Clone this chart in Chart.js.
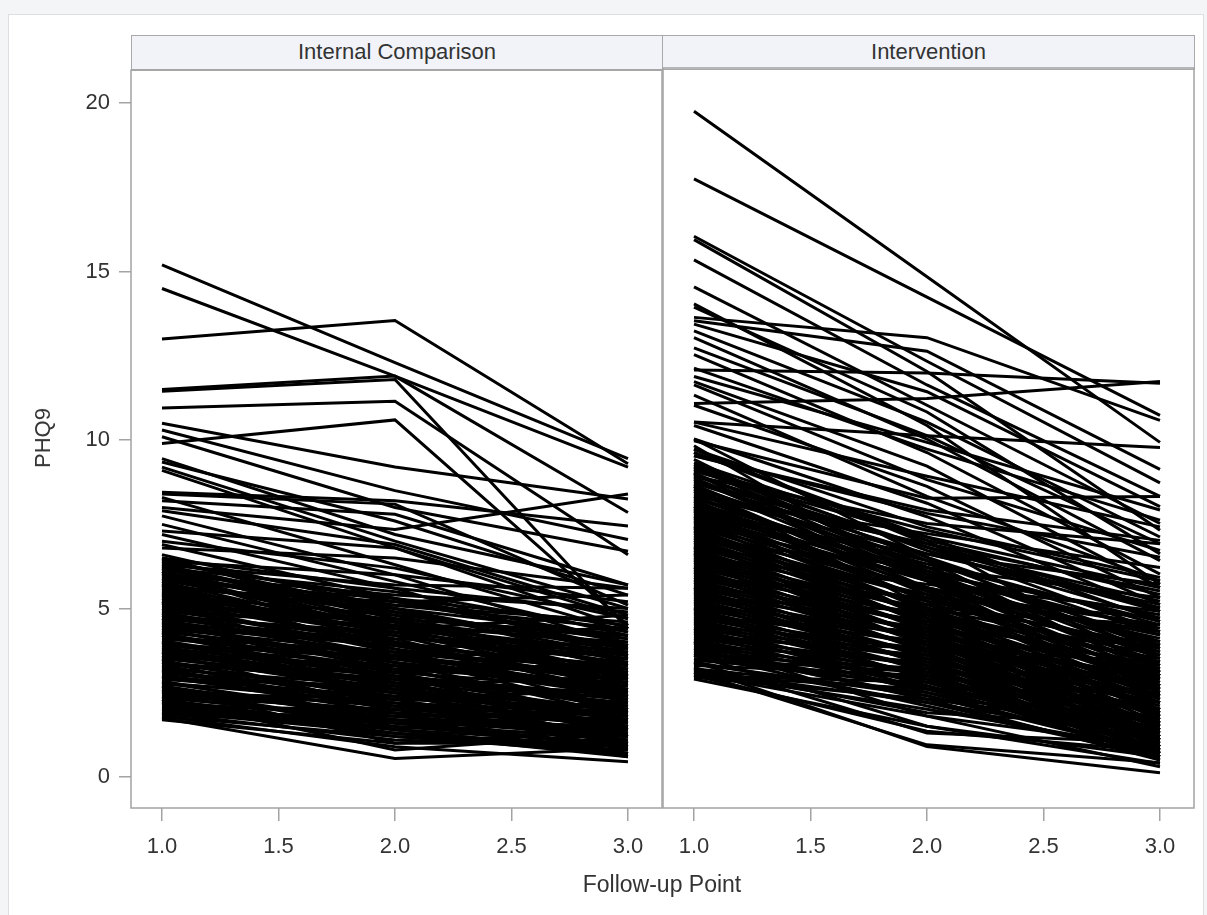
<!DOCTYPE html>
<html>
<head>
<meta charset="utf-8">
<script src="https://cdn.jsdelivr.net/npm/chart.js@4.4.1/dist/chart.umd.min.js"></script>
<style>
  html, body { margin:0; padding:0; width:1207px; height:915px; overflow:hidden; background:#f4f5f7; font-family:"Liberation Sans", Arial, sans-serif; }
  #sheet { position:absolute; left:8px; top:14px; width:1196px; height:905px; background:#fff; border:1px solid #dcdee2; box-sizing:border-box; }
  .hdr { position:absolute; top:35px; height:35px; background:#f1f3f8; border:1px solid #a9a9a9; box-sizing:border-box; color:#333; font-size:22px; line-height:32px; text-align:center; }
  canvas { position:absolute; }
  #ytitle { position:absolute; left:43px; top:438px; transform:translate(-50%,-50%) rotate(-90deg); font-size:22px; color:#333; white-space:nowrap; }
  #xtitle { position:absolute; left:662px; top:884px; transform:translate(-50%,-50%); font-size:23px; color:#333; white-space:nowrap; }
</style>
</head>
<body>
<div id="sheet"></div>
<div class="hdr" style="left:131px;width:532px;">Internal Comparison</div>
<div class="hdr" style="left:662px;width:533px;">Intervention</div>
<canvas id="c1" width="682" height="867" style="left:0px;top:48px;width:682px;height:867px;"></canvas>
<canvas id="c2" width="571" height="867" style="left:643px;top:48px;width:571px;height:867px;"></canvas>
<div id="ytitle">PHQ9</div>
<div id="xtitle">Follow-up Point</div>
<script>
// Follow-up points
const followUp = [1, 2, 3];
const xTickValues = [1.0, 1.5, 2.0, 2.5, 3.0];
const yTickValues = [0, 5, 10, 15, 20];
const panelTitles = ["Internal Comparison", "Intervention"];

// PHQ9 per subject at follow-up 1, 2, 3 — Internal Comparison
const comparisonUpper = [
  [15.2,12.3,9.45],[14.5,11.9,9.2],[13.0,13.55,9.3],[11.5,11.9,7.85],[11.45,11.8,4.4],
  [10.95,11.15,6.6],[9.9,10.6,4.5],[10.5,9.2,8.25],[10.3,8.5,7.05],[10.1,8.0,6.7],
  [9.45,7.2,5.7],[9.35,7.6,5.4],[9.2,7.0,5.0],[9.1,6.8,4.7],[8.45,8.2,7.45],
  [8.4,8.1,5.1],[8.3,6.3,4.3],[8.2,7.8,5.7],[8.0,7.35,8.4],[7.9,6.9,4.8],
  [7.75,6.0,3.9],[7.5,5.8,4.2],[7.3,6.8,4.4],[7.2,5.6,3.6],[7.0,6.2,4.7],
  [6.9,5.3,3.8],[6.8,6.5,5.6],[6.6,5.0,3.4]
];
const comparisonLower = [
  [6.4,5.2,4.0],[6.3,4.8,3.2],[6.2,5.5,4.3],[6.1,4.6,2.9],[6.0,5.0,3.7],[5.9,4.4,3.1],[5.8,5.3,4.5],[5.8,4.2,2.6],[5.7,4.9,3.9],[5.6,4.5,3.3],
  [5.5,4.1,2.4],[5.4,4.8,4.1],[5.4,3.9,2.8],[5.3,4.6,3.5],[5.2,4.0,2.2],[5.1,4.7,4.2],[5.0,3.8,2.9],[5.0,4.4,3.6],[4.9,3.6,1.9],[4.8,4.2,3.4],
  [4.8,3.5,2.5],[4.7,4.0,3.0],[4.6,3.3,1.6],[4.6,3.9,3.8],[4.5,3.4,2.7],[4.4,3.7,3.2],[4.4,3.0,1.4],[4.3,3.6,2.9],[4.2,3.2,2.1],[4.2,2.9,1.2],
  [4.1,3.5,3.1],[4.0,3.0,2.3],[4.0,2.7,1.0],[3.9,3.3,2.6],[3.8,2.8,1.8],[3.8,3.2,2.8],[3.7,2.6,1.3],[3.6,3.0,2.4],[3.6,2.5,0.9],[3.5,2.9,2.2],
  [3.4,2.4,1.5],[3.4,2.8,2.5],[3.3,2.2,0.8],[3.2,2.7,2.0],[3.2,2.1,1.1],[3.1,2.5,1.7],[3.0,2.3,2.1],[3.0,1.9,0.7],[2.9,2.4,1.9],[2.8,1.8,1.2],
  [2.8,2.2,1.6],[2.7,1.7,0.6],[2.6,2.1,1.8],[2.6,1.5,1.0],[2.5,1.9,1.4],[2.4,1.6,0.9],[2.4,2.0,1.7],[2.3,1.4,0.7],[2.2,1.8,1.3],[2.2,1.2,0.8],
  [2.1,1.6,1.1],[2.0,1.3,0.6],[2.0,1.7,1.5],[1.9,1.1,0.9],[1.9,1.5,1.2],[1.8,0.9,0.45],[1.8,1.2,0.7],[1.75,0.55,0.85],[1.7,1.0,1.0],
  [6.4,6.0,5.2],[6.3,5.7,5.6],[6.2,4.4,4.8],[6.0,5.4,5.0],[5.9,5.1,4.6],[5.6,5.2,5.4],[5.3,4.3,4.4],[4.9,4.5,4.0],[4.5,4.1,3.9],[3.9,3.6,3.7],
  [3.3,3.1,3.4],[2.9,2.7,3.0],[2.5,2.3,2.6],[2.1,2.0,2.2],[1.9,1.8,1.9],[4.3,2.6,2.0],[3.7,2.0,1.6],[5.2,3.1,2.6],[2.3,0.8,1.3],[2.7,1.0,1.4],
  [3.5,1.4,2.0],[6.5,4.7,3.3],[6.1,3.9,2.7],[5.7,3.7,2.3],[4.7,2.8,1.5],
  [6.5,5.6,4.9],[6.45,4.9,3.6],[6.35,5.3,4.1],[6.25,4.7,3.0],[6.15,5.1,4.4],[6.05,4.3,2.8],[5.95,4.9,3.8],[5.85,4.6,3.5],[5.75,4.0,2.5],[5.65,5.0,4.2],
  [5.55,4.3,3.0],[5.45,3.8,2.0],[5.35,4.5,3.7],[5.25,4.2,3.2],[5.15,3.7,2.4],[5.05,4.6,3.9],[4.95,4.0,3.1],[4.85,3.4,1.8],[4.75,4.3,3.5],[4.65,3.6,2.6],
  [4.55,3.2,2.0],[4.45,3.9,3.3],[4.35,3.4,2.4],[4.25,3.1,1.7],[4.15,3.7,3.0],[4.05,2.9,1.9],[3.95,3.5,2.9],[3.85,3.0,2.1],[3.75,2.7,1.4],[3.65,3.3,2.7],
  [3.55,2.6,1.7],[3.45,2.3,1.2],[3.35,2.9,2.3],[3.25,2.5,1.8],[3.15,2.0,1.0],[3.05,2.6,2.0],[2.95,2.1,1.5],[2.85,1.6,0.9],[2.75,2.4,2.0],[2.65,1.9,1.3],
  [2.55,1.4,0.7],[2.45,2.2,1.9],[2.35,1.7,1.2],[2.25,1.3,0.9],[2.15,1.9,1.6],[2.05,1.4,1.0],[1.95,1.3,0.7],[1.85,1.6,1.4]
];

// PHQ9 per subject at follow-up 1, 2, 3 — Intervention
const interventionUpper = [
  [19.7,14.8,9.9],[17.7,14.2,10.7],[16.0,12.3,8.7],[15.9,12.0,7.3],[15.3,11.6,8.3],
  [14.5,11.0,7.5],[13.9,10.8,6.6],[13.6,13.0,10.55],[13.5,12.6,9.1],[13.4,11.4,8.0],
  [13.2,10.5,7.1],[12.7,10.1,6.9],[12.5,9.6,6.0],[12.04,11.95,11.65],[11.85,9.9,7.9],
  [11.7,9.2,5.6],[11.6,8.8,6.7],[11.05,11.2,11.7],[11.0,8.6,5.3],[10.5,8.9,7.4],
  [10.4,8.1,5.1],[10.5,10.1,9.75],[10.0,7.7,4.9],[9.95,8.25,8.3],[9.7,7.4,5.9],
  [9.6,7.1,4.6],[9.5,7.9,7.0],[9.1,6.8,4.3],[12.1,9.7,7.6],[11.3,8.3,5.8],
  [13.0,10.0,6.4],[14.0,10.4,5.7]
];
const interventionLower = [
  [9.3,7.0,5.4],[9.2,6.4,3.9],[9.1,7.3,5.8],[9.0,6.1,3.5],[8.9,6.8,4.9],[8.8,5.9,3.2],[8.7,6.6,5.1],[8.6,6.2,4.0],[8.5,5.6,2.9],[8.4,6.9,5.5],
  [8.3,6.0,3.7],[8.2,5.4,2.6],[8.1,6.3,4.6],[8.0,5.8,3.4],[7.9,5.2,2.4],[7.8,6.0,4.8],[7.7,5.5,3.1],[7.6,5.0,2.2],[7.5,5.9,4.4],[7.4,5.3,3.3],
  [7.3,4.8,1.9],[7.2,5.6,4.1],[7.1,5.1,2.8],[7.0,4.6,1.7],[6.9,5.4,4.3],[6.8,4.9,2.9],[6.7,4.4,1.5],[6.6,5.2,3.8],[6.5,4.7,2.5],[6.4,4.2,1.3],
  [6.3,5.0,3.6],[6.2,4.5,2.3],[6.1,4.0,1.2],[6.0,4.8,3.5],[5.9,4.3,2.1],[5.8,3.8,1.0],[5.7,4.6,3.3],[5.6,4.1,2.0],[5.5,3.6,0.9],[5.4,4.4,3.1],
  [5.3,3.9,1.8],[5.2,3.4,0.8],[5.1,4.2,2.9],[5.0,3.7,1.6],[4.9,3.2,0.7],[4.8,4.0,2.7],[4.7,3.5,1.5],[4.6,3.0,0.6],[4.5,3.8,2.6],[4.4,3.3,1.4],
  [4.3,2.8,0.8],[4.2,3.6,2.4],[4.1,3.1,1.3],[4.0,2.6,0.9],[3.9,3.4,2.2],[3.8,2.9,1.1],[3.7,2.4,0.7],[3.6,3.2,2.0],[3.5,2.7,1.0],[3.4,2.2,0.6],
  [3.3,3.0,1.9],[3.2,2.5,1.2],[3.1,2.0,0.8],[3.0,2.8,1.7],[2.95,2.3,1.4],
  [9.5,7.8,6.5],[9.4,6.0,2.7],[8.9,7.5,6.9],[8.6,5.0,1.8],[8.3,7.2,6.2],[8.0,4.7,1.4],[7.7,6.6,5.7],[7.4,4.5,1.1],[7.0,6.2,5.3],[6.8,4.1,0.9],
  [6.5,5.7,4.9],[6.2,3.7,0.7],[5.9,5.3,4.7],[5.6,3.3,1.9],[5.3,4.9,4.5],[5.0,2.9,1.2],[4.7,4.3,3.9],[4.4,2.6,1.6],[4.1,3.8,3.4],[3.8,2.3,1.8],
  [3.5,3.1,2.9],[3.2,1.9,1.5],[3.0,2.6,2.5],[6.6,3.9,3.0],[7.9,6.4,3.0],[9.0,5.5,4.5],[10.0,6.5,3.6],[9.8,5.8,2.5],[9.6,7.0,3.1],[9.7,6.9,5.0],
  [3.4,1.3,1.0],[3.6,1.5,0.4],[4.0,1.8,0.3],[3.25,0.9,0.12],[3.1,0.95,0.42],[2.9,1.5,0.6],[3.0,1.35,0.75],
  [9.25,6.7,4.7],[9.15,6.2,3.8],[9.05,7.1,5.6],[8.95,6.5,4.2],[8.85,6.0,3.3],[8.75,6.8,5.2],[8.65,5.8,3.0],[8.55,6.4,4.5],[8.45,5.5,2.7],[8.35,6.6,5.0],
  [8.25,5.9,3.9],[8.15,5.2,2.3],[8.05,6.1,4.3],[7.95,5.6,3.6],[7.85,4.9,2.0],[7.75,5.8,4.0],[7.65,5.3,3.0],[7.55,4.7,1.7],[7.45,5.6,4.2],[7.35,5.0,2.7],
  [7.25,4.5,1.6],[7.15,5.3,3.7],[7.05,4.8,2.6],[6.95,4.3,1.4],[6.85,5.1,3.9],[6.75,4.6,2.4],[6.65,4.1,1.2],[6.55,4.9,3.4],[6.45,4.4,2.2],[6.35,3.9,1.1],
  [6.25,4.7,3.2],[6.15,4.2,2.0],[6.05,3.7,0.9],[5.95,4.5,3.0],[5.85,4.0,1.8],[5.75,3.5,0.8],[5.65,4.3,2.8],[5.55,3.8,1.6],[5.45,3.3,0.7],[5.35,4.1,2.6],
  [5.25,3.6,1.5],[5.15,3.1,0.6],[5.05,3.9,2.4],[4.95,3.4,1.3],[4.85,2.9,0.5],[4.75,3.7,2.2],[4.65,3.2,1.2],[4.55,2.7,0.6],[4.45,3.5,2.0],[4.35,3.0,1.1],
  [4.25,2.5,0.7],[4.15,3.3,1.9],[4.05,2.8,1.0],[3.95,2.3,0.5],[3.85,3.1,1.7],[3.75,2.6,0.9],[3.65,2.1,0.6],[3.45,2.9,1.6],[3.35,2.4,0.8],[3.15,2.2,1.1],[3.05,1.8,0.9]
];

const yMin = -0.92, yMax = 20.98;
const xMin = 0.867, xMax = 3.146;
const lineColor = '#000000';
const frameColor = '#a3a3a3';
const tickFont = { family: '"Liberation Sans", Arial, sans-serif', size: 22 };

function makeDatasets(lines) {
  return lines.map(v => ({
    data: followUp.map((x, i) => ({ x: x, y: v[i] })),
    borderColor: lineColor,
    borderWidth: 3,
    pointRadius: 0,
    tension: 0,
    fill: false
  }));
}

const framePlugin = {
  id: 'frame',
  afterDraw(chart) {
    const a = chart.chartArea, ctx = chart.ctx;
    ctx.save();
    ctx.strokeStyle = frameColor;
    ctx.lineWidth = 1.5;
    ctx.strokeRect(a.left, a.top, a.right - a.left, a.bottom - a.top);
    ctx.restore();
  }
};

function makeChart(id, lines, showY, padding) {
  return new Chart(document.getElementById(id), {
    type: 'line',
    data: { datasets: makeDatasets(lines) },
    options: {
      responsive: false,
      animation: false,
      devicePixelRatio: 1,
      layout: { padding: padding },
      plugins: { legend: { display: false }, tooltip: { enabled: false } },
      scales: {
        x: {
          type: 'linear', min: xMin, max: xMax,
          afterBuildTicks: s => { s.ticks = xTickValues.map(v => ({ value: v })); },
          afterFit: s => { s.height = 60; },
          ticks: { font: tickFont, color: '#333', padding: 13, maxRotation: 0, callback: v => Number(v).toFixed(1) },
          grid: { drawOnChartArea: false, drawTicks: true, tickLength: 13, color: frameColor, lineWidth: 1.5 },
          border: { display: false }
        },
        y: {
          display: showY,
          min: yMin, max: yMax,
          afterBuildTicks: s => { s.ticks = yTickValues.map(v => ({ value: v })); },
          afterFit: s => { s.width = showY ? 131 : 0; },
          ticks: { font: tickFont, color: '#333', padding: 9, callback: v => String(v) },
          grid: { drawOnChartArea: false, drawTicks: true, tickLength: 12, color: frameColor, lineWidth: 1.5 },
          border: { display: false }
        }
      }
    },
    plugins: [framePlugin]
  });
}

makeChart('c1', comparisonUpper.concat(comparisonLower), true, { top: 20, right: 20, bottom: 47, left: 0 });
makeChart('c2', interventionUpper.concat(interventionLower), false, { top: 20, right: 20, bottom: 47, left: 20 });
</script>
</body>
</html>
